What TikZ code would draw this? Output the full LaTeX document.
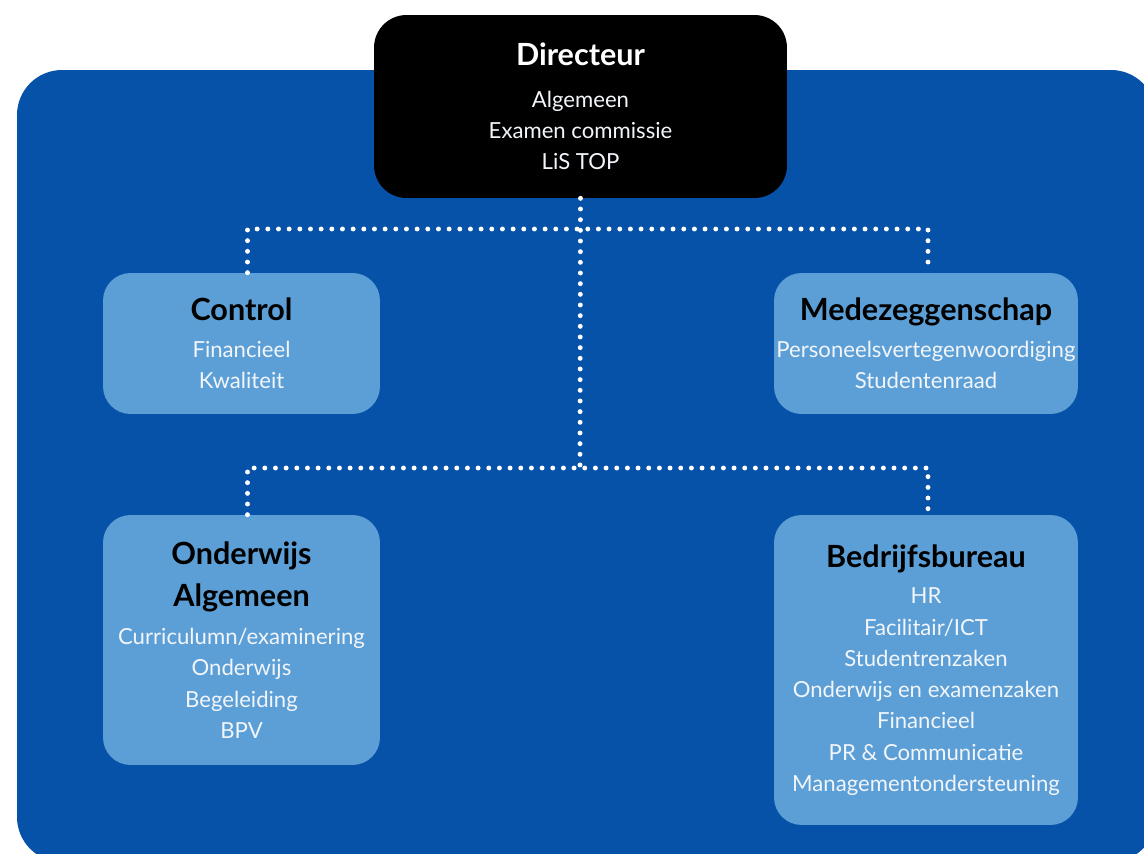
\documentclass[tikz,border=0pt]{standalone}
\usepackage{fontspec}
\setmainfont{Lato}
\usetikzlibrary{positioning}

\definecolor{schoolblue}{HTML}{0652A8}
\definecolor{unitblue}{HTML}{5C9FD6}
\definecolor{softwhite}{HTML}{F2F5FA}

\newcommand{\unithead}[1]{{\fontsize{17.4}{24}\selectfont\bfseries #1}}

\begin{document}
\begin{tikzpicture}[x=0.02cm,y=-0.02cm,
		unitbox/.style={fill=unitblue,rounded corners=0.55cm,align=center,
			text=softwhite,font=\fontsize{12.6}{17.8}\selectfont,inner sep=0pt},
		headbox/.style={fill=black,rounded corners=0.65cm,align=center,
			text=softwhite,font=\fontsize{12.6}{17.8}\selectfont,inner sep=0pt},
		dotline/.style={draw=white,line width=2.8pt,line cap=round,
			dash pattern=on 0pt off 6.07pt}]
		\clip (0,0) rectangle (1144,853);
		\fill[white] (0,0) rectangle (1144,853);
		\fill[schoolblue,rounded corners=0.9cm] (17,70) rectangle (1156,862);

		\coordinate (topbus) at (580,229);
		\coordinate (lowbus) at (580,468);

		\node[headbox,minimum width=8.26cm,minimum height=3.66cm] (dir) at (580.5,106.5)
			{\textcolor{white}{\unithead{Directeur}}\\[6pt]Algemeen\\Examen commissie\\LiS TOP};

		\node[unitbox,minimum width=5.54cm,minimum height=2.82cm] (ctrl) at (241.5,343.5)
			{\textcolor{black}{\unithead{Control}}\\[3pt]Financieel\\Kwaliteit};
		\node[unitbox,minimum width=6.08cm,minimum height=2.82cm] (mede) at (926,343.5)
			{\textcolor{black}{\unithead{Medezeggenschap}}\\[3pt]Personeelsvertegenwoordiging\\Studentenraad};
		\node[unitbox,minimum width=5.54cm,minimum height=5cm] (ondw) at (241.5,640)
			{\textcolor{black}{\unithead{Onderwijs}}\\[6pt]\textcolor{black}{\unithead{Algemeen}}\\[4pt]Curriculumn/examinering\\Onderwijs\\Begeleiding\\BPV};
		\node[unitbox,minimum width=6.08cm,minimum height=6.2cm] (bedr) at (926,670)
			{\textcolor{black}{\unithead{Bedrijfsbureau}}\\[3pt]HR\\Facilitair/ICT\\Studentrenzaken\\Onderwijs en examenzaken\\Financieel\\PR \& Communicatie\\Managementondersteuning};

		% dotted lines between the boxes
		\draw[dotline] (dir.south) -- (lowbus);
		\draw[dotline] ([xshift=0.12cm]ctrl.north) |- (topbus) -| ([xshift=0.04cm]mede.north);
		\draw[dotline] ([xshift=0.12cm]ondw.north) |- (lowbus) -| ([xshift=0.04cm]bedr.north);
\end{tikzpicture}
\end{document}
